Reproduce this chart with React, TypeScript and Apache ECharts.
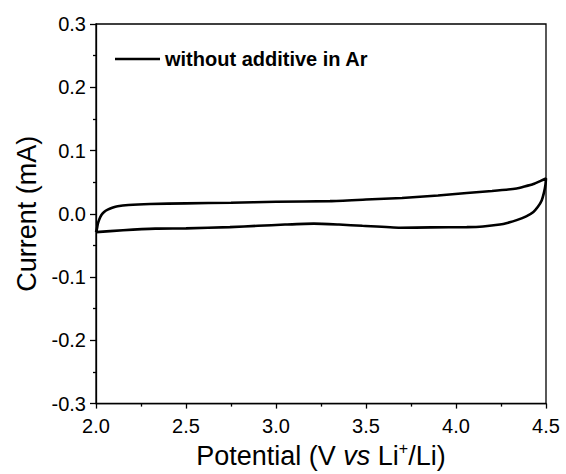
import React, { useEffect, useRef } from "react";
import * as echarts from "echarts";

const seriesName = "without additive in Ar";

// Forward (anodic) scan: potential (V) and current (mA)
const upperPotential = [2.0, 2.005, 2.01, 2.018, 2.03, 2.045, 2.065, 2.09, 2.12, 2.18, 2.3, 2.5, 2.75, 3.0, 3.3, 3.5, 3.7, 3.9, 4.06, 4.2, 4.337, 4.38, 4.43, 4.47, 4.5];
const upperCurrent = [-0.029, -0.024, -0.016, -0.009, -0.002, 0.003, 0.0066, 0.0095, 0.012, 0.014, 0.0155, 0.0165, 0.0175, 0.019, 0.020, 0.0225, 0.025, 0.029, 0.033, 0.036, 0.040, 0.043, 0.047, 0.052, 0.056];

// Reverse (cathodic) scan
const lowerPotential = [4.5, 4.497, 4.49, 4.476, 4.455, 4.43, 4.39, 4.337, 4.29, 4.244, 4.15, 4.06, 3.86, 3.69, 3.48, 3.35, 3.21, 3.05, 2.9, 2.744, 2.5, 2.33, 2.15, 2.0];
const lowerCurrent = [0.056, 0.046, 0.035, 0.021, 0.011, 0.003, -0.004, -0.010, -0.014, -0.017, -0.020, -0.021, -0.0215, -0.022, -0.019, -0.017, -0.0155, -0.017, -0.019, -0.021, -0.023, -0.0235, -0.026, -0.029];

const xMin = 2.0, xMax = 4.5, xStep = 0.5;
const yMin = -0.3, yMax = 0.3, yStep = 0.1;

export default function App() {
  const ref = useRef<HTMLDivElement>(null);
  useEffect(() => {
    if (!ref.current) return;
    const chart = echarts.init(ref.current, null, { renderer: "svg" });
    const data: number[][] = [];
    upperPotential.forEach((x, i) => data.push([x, upperCurrent[i]]));
    lowerPotential.forEach((x, i) => { if (i > 0) data.push([x, lowerCurrent[i]]); });
    const font = "'Liberation Sans', Arial, sans-serif";
    chart.setOption({
      animation: false,
      backgroundColor: "#ffffff",
      textStyle: { fontFamily: font, color: "#000" },
      grid: { left: 96, right: 20, top: 24, bottom: 70, show: true, borderColor: "#000", borderWidth: 1.3 },
      legend: {
        left: 110, top: 44, itemWidth: 45, itemHeight: 2.6, itemGap: 6,
        data: [{ name: seriesName, icon: "rect" }],
        itemStyle: { color: "#000" },
        textStyle: { fontFamily: font, fontSize: 20, fontWeight: "bold", color: "#000", padding: [0, 0, 0, 0] },
      },
      xAxis: {
        type: "value", min: xMin, max: xMax, interval: xStep,
        axisLine: { onZero: false, lineStyle: { color: "#000", width: 1.3 } },
        axisTick: { length: 5, lineStyle: { color: "#000", width: 1.3 } },
        minorTick: { show: true, splitNumber: 2, length: 3, lineStyle: { color: "#000", width: 1.3 } },
        splitLine: { show: false },
        axisLabel: { fontSize: 20, color: "#000", fontFamily: font, margin: 12, formatter: (v: number) => v.toFixed(1) },
        name: "{a|Potential (V }{i|vs}{a| Li}{s|+}{a|/Li)}",
        nameLocation: "middle", nameGap: 35,
        nameTextStyle: {
          rich: {
            a: { fontSize: 27, fontFamily: font, color: "#000" },
            i: { fontSize: 27, fontFamily: font, color: "#000", fontStyle: "italic" },
            s: { fontSize: 16, fontFamily: font, color: "#000", verticalAlign: "top", padding: [0, 0, 14, 0] },
          },
        },
      },
      yAxis: {
        type: "value", min: yMin, max: yMax, interval: yStep,
        axisLine: { onZero: false, lineStyle: { color: "#000", width: 1.3 } },
        axisTick: { length: 6, lineStyle: { color: "#000", width: 1.3 } },
        minorTick: { show: true, splitNumber: 2, length: 3, lineStyle: { color: "#000", width: 1.3 } },
        splitLine: { show: false },
        axisLabel: { fontSize: 20, color: "#000", fontFamily: font, margin: 10, formatter: (v: number) => v.toFixed(1) },
        name: "Current (mA)",
        nameLocation: "middle", nameGap: 56,
        nameTextStyle: { fontSize: 27, fontFamily: font, color: "#000" },
      },
      series: [
        {
          name: seriesName, type: "line", data, symbol: "none", smooth: 0.2,
          lineStyle: { color: "#000", width: 2.6 }, itemStyle: { color: "#000" },
        },
      ],
    });
    return () => chart.dispose();
  }, []);
  return <div ref={ref} style={{ width: 566, height: 474, position: "absolute", left: 0, top: 0 }} />;
}
